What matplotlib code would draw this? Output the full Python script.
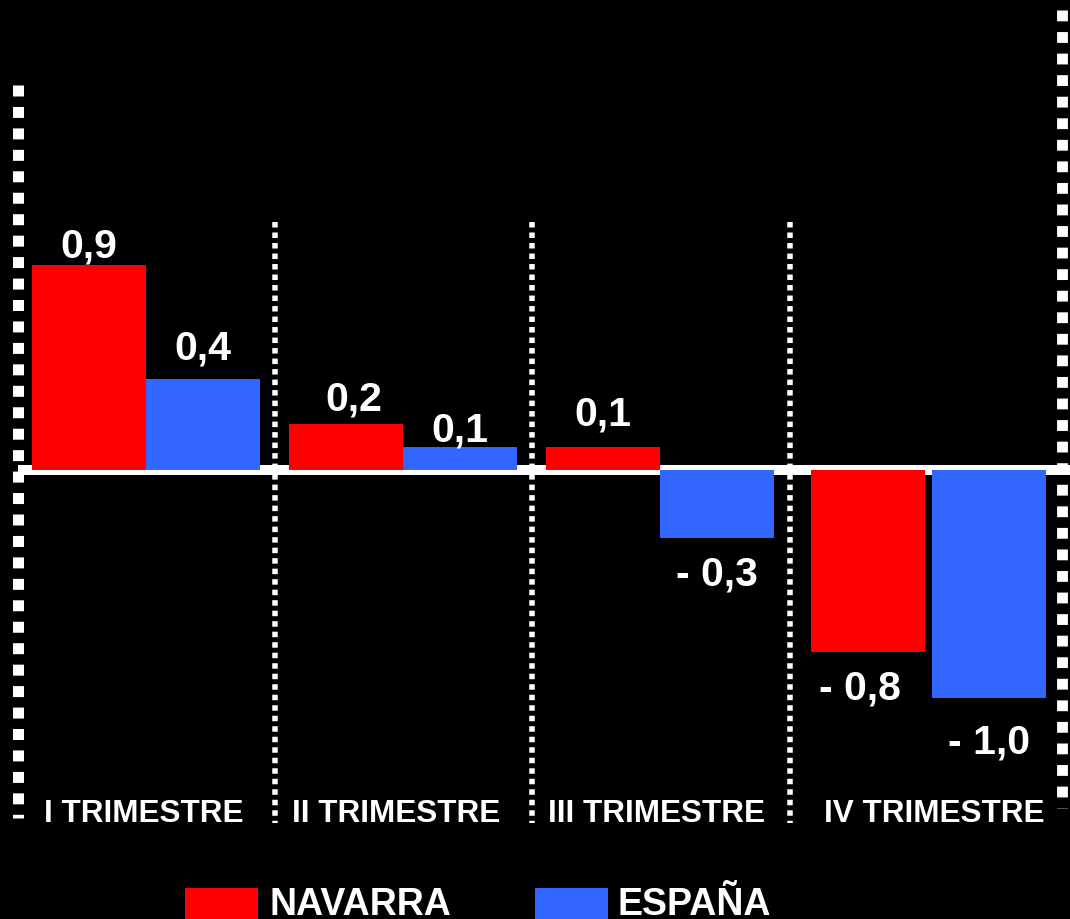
import matplotlib
matplotlib.use("Agg")
import matplotlib.pyplot as plt
from matplotlib.patches import Rectangle

# ---- data ----
categories = ["I TRIMESTRE", "II TRIMESTRE", "III TRIMESTRE", "IV TRIMESTRE"]
series_names = ["NAVARRA", "ESPAÑA"]
navarra = [0.9, 0.2, 0.1, -0.8]
espana = [0.4, 0.1, -0.3, -1.0]

# ---- layout (pixel-based positions) ----
W, H = 1070, 919
PX_PER_UNIT = 228.0
ZERO_Y_IMG = 470.0
red_x = [89, 346, 603, 868]
blue_x = [202.5, 460, 716.5, 989]
bar_w = 114
cat_x = [144, 396, 656, 934]
sep_x = [275, 532, 790]
RED = "#FF0000"
BLUE = "#3366FF"
FONT = "Liberation Sans"

# label offsets in pixels (dx, dy of baseline relative to bar end)
red_off = [(0, 7), (7.5, 14), (0, 22), (-8.5, -47.5)]
blue_off = [(0, 19), (0, 6), (0, -47.5), (0, -55.5)]


def fmt(v):
    s = f"{abs(v):.1f}".replace(".", ",")
    return f"- {s}" if v < 0 else s


fig = plt.figure(figsize=(W / 100, H / 100), dpi=100, facecolor="black")
ax = fig.add_axes([0, 0, 1, 1], facecolor="black")
ax.set_xlim(0, W)
ax.set_ylim(-(H - ZERO_Y_IMG) / PX_PER_UNIT, ZERO_Y_IMG / PX_PER_UNIT)
ax.axis("off")

xt = ax.get_xaxis_transform()


def yf(y_img):
    return 1 - y_img / H


# zero line
ax.plot([18, W], [0, 0], color="white", lw=7.2, solid_capstyle="butt", zorder=1)

# bars
ax.bar(red_x, navarra, width=bar_w, color=RED, zorder=2)
ax.bar(blue_x, espana, width=bar_w, color=BLUE, zorder=2)

# value labels
for xs, vals, offs in ((red_x, navarra, red_off), (blue_x, espana, blue_off)):
    for x, v, (dx, dy) in zip(xs, vals, offs):
        ax.annotate(fmt(v), xy=(x, v), xytext=(dx, dy), textcoords="offset pixels",
                    ha="center", va="baseline", color="white", fontsize=29.5,
                    fontweight="bold", family=FONT, zorder=4)

# separators
for x in sep_x:
    ax.plot([x, x], [yf(222), yf(823)], transform=xt, color="white", lw=3.96,
            linestyle=(0, (1, 0.91)), dash_capstyle="butt", zorder=3)

# borders
ax.plot([17.5, 17.5], [yf(85), yf(818)], transform=xt, color="white", lw=7.92,
        linestyle=(0, (1, 0.95)), dash_capstyle="butt", zorder=3)
ax.plot([1061.5, 1061.5], [yf(10), yf(808)], transform=xt, color="white", lw=7.8,
        linestyle=(0, (1, 0.99)), dash_capstyle="butt", zorder=3)

# category labels
for x, c in zip(cat_x, categories):
    ax.text(x, yf(822), c, transform=xt, ha="center", va="baseline", color="white",
            fontsize=22.7, fontweight="bold", family=FONT)

# legend
leg = [(185, 270, RED, series_names[0]), (535, 617, BLUE, series_names[1])]
for rx, tx, col, name in leg:
    ax.add_patch(Rectangle((rx / W, 0), 73 / W, (H - 888) / H, transform=ax.transAxes,
                           facecolor=col, edgecolor="none", clip_on=False))
    ax.text(tx / W, yf(915), name, transform=ax.transAxes, ha="left", va="baseline",
            color="white", fontsize=27, fontweight="bold", family=FONT)

fig.savefig("out.png", dpi=100, facecolor="black")
